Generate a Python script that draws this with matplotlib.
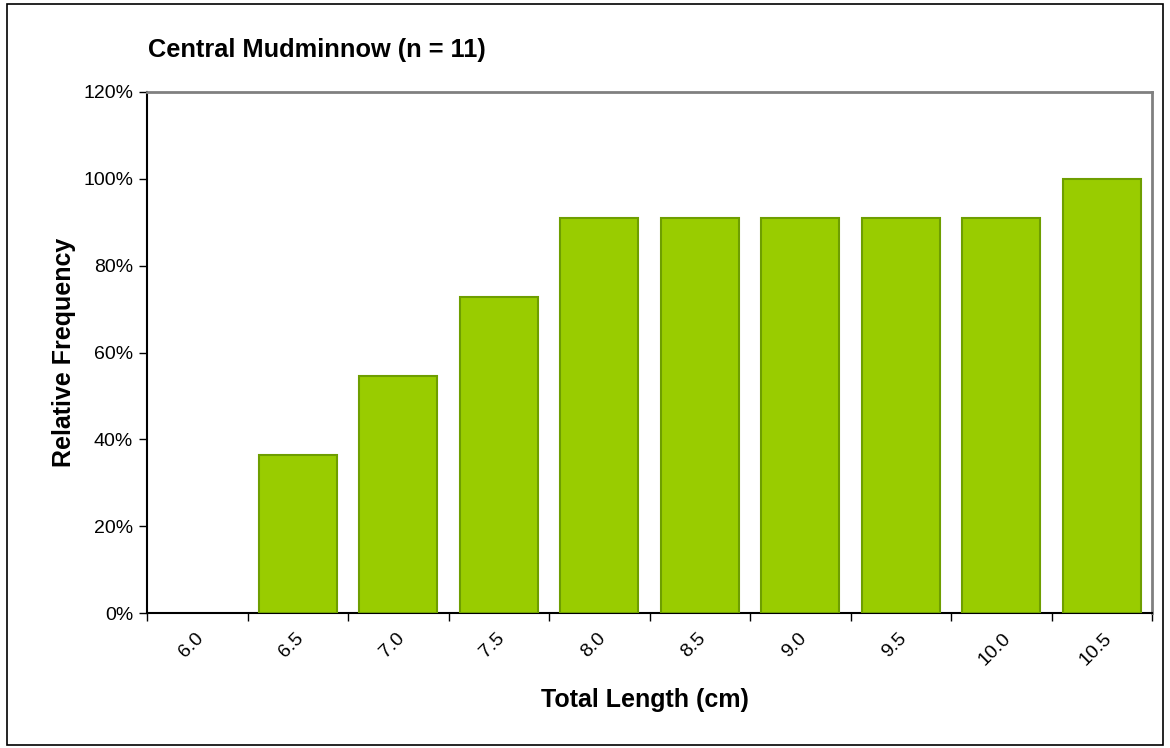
import matplotlib
matplotlib.use("Agg")
import matplotlib.pyplot as plt
import matplotlib.transforms as mtransforms
from matplotlib.ticker import FuncFormatter, MultipleLocator
from matplotlib.patches import Rectangle

plt.rcParams['font.family'] = ['Liberation Sans', 'DejaVu Sans']

categories = ["6.0", "6.5", "7.0", "7.5", "8.0", "8.5", "9.0", "9.5", "10.0", "10.5"]
values = [0.0, 36.36, 54.55, 72.73, 90.91, 90.91, 90.91, 90.91, 90.91, 100.0]
title = "Central Mudminnow (n = 11)"
xlabel = "Total Length (cm)"
ylabel = "Relative Frequency"

fig = plt.figure(figsize=(11.7, 7.48), dpi=100)
ax = fig.add_axes([147/1170, 1-613/748, (1152-147)/1170, (613-92)/748])

x = list(range(len(categories)))
lws = [0 if v == 0 else 1.5 for v in values]
ax.bar(x, values, width=0.78, color="#99CC00", edgecolor="#6E9E00", linewidth=lws, zorder=3)

ax.set_xlim(-0.5, len(categories)-0.5)
ax.set_ylim(0, 120)
ax.yaxis.set_major_locator(MultipleLocator(20))
ax.yaxis.set_major_formatter(FuncFormatter(lambda v, p: f"{int(round(v))}%"))
ax.set_xticks(x)
ax.set_xticklabels(categories, rotation=45, ha="center", fontsize=14)
ax.set_xticks([i - 0.5 for i in range(len(categories)+1)], minor=True)
ax.tick_params(axis="x", which="major", length=0, pad=12)
ax.tick_params(axis="x", which="minor", length=6, width=1, direction="out", color="black")
ax.tick_params(axis="y", length=6, width=1, direction="out", labelsize=14, pad=4)

offset = mtransforms.ScaledTranslation(-6/100, 0, fig.dpi_scale_trans)
for lab in ax.get_xticklabels():
    lab.set_transform(lab.get_transform() + offset)

for side in ["top", "right"]:
    ax.spines[side].set_color("#808080")
    ax.spines[side].set_linewidth(2)
for side in ["left", "bottom"]:
    ax.spines[side].set_color("black")
    ax.spines[side].set_linewidth(1.5)

ax.set_xlabel(xlabel, fontsize=18, fontweight="bold", labelpad=14)
ax.set_ylabel(ylabel, fontsize=18, fontweight="bold", labelpad=5)
ax.xaxis.label.set_x(0.495)
fig.text(148/1170, 1-50/748, title, fontsize=18.3, fontweight="bold", ha="left", va="center")

fig.patches.append(Rectangle((7/1170, 3/748), 1-14/1170, 1-7/748, transform=fig.transFigure,
                             fill=False, edgecolor="black", linewidth=1.2))

fig.savefig("out.png", dpi=100)
